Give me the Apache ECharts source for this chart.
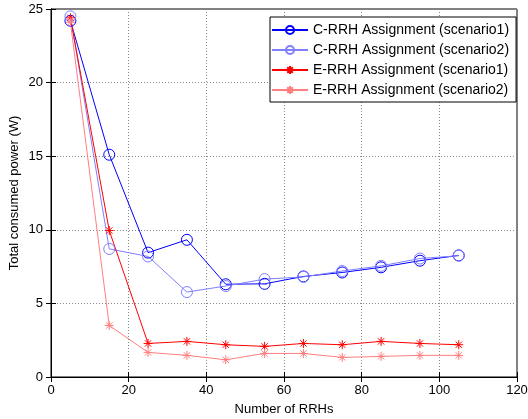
<!DOCTYPE html>
<html lang="en">
<head>
    <meta charset="utf-8">
    <title>Total consumed power</title>
    <script src="https://cdn.jsdelivr.net/npm/echarts@6/dist/echarts.min.js"></script>
    <style>
        html, body { margin: 0; padding: 0; background: #fff; }
        #main { width: 528px; height: 419px; }
    </style>
</head>
<body>
<div id="main"></div>
<script type="text/javascript">
    // number of RRHs
    var rrhs = [5, 15, 25, 35, 45, 55, 65, 75, 85, 95, 105];
    // values (W)
    var cScenario1 = [24.2, 15.1, 8.45, 9.32, 6.3, 6.33, 6.83, 7.1, 7.45, 7.9, 8.26];
    var cScenario2 = [24.5, 8.7, 8.19, 5.77, 6.18, 6.65, 6.8, 7.2, 7.55, 8.05, 8.24];
    var eScenario1 = [24.4, 9.95, 2.28, 2.42, 2.19, 2.08, 2.28, 2.19, 2.42, 2.28, 2.19];
    var eScenario2 = [24.1, 3.5, 1.67, 1.47, 1.17, 1.6, 1.6, 1.33, 1.4, 1.47, 1.47];
    var names = ['C-RRH Assignment (scenario1)', 'C-RRH Assignment (scenario2)',
                 'E-RRH Assignment (scenario1)', 'E-RRH Assignment (scenario2)'];

    function pairs(ys) {
        return rrhs.map(function (x, i) { return [x, ys[i]]; });
    }

    // asterisk marker like matlab '*'
    var star = 'path://M5 0L5 10M0 5L10 5M1.5 1.5L8.5 8.5M8.5 1.5L1.5 8.5';

    function mkSeries(name, ys, color, symbol, size) {
        return {
            name: name,
            type: 'line',
            data: pairs(ys),
            symbol: symbol,
            symbolSize: size,
            showSymbol: true,
            animation: false,
            lineStyle: { color: color, width: 1 },
            itemStyle: { color: symbol === 'circle' ? 'none' : color, borderColor: color, borderWidth: 1 }
        };
    }

    var myChart = echarts.init(document.getElementById('main'));

    var gridLine = { show: true, lineStyle: { color: '#888', type: [1, 2], width: 1 } };
    var axisFont = { fontFamily: 'Liberation Sans', fontSize: 13, color: '#000' };
    var tick = { show: true, inside: true, length: 5, lineStyle: { color: '#000' } };

    myChart.setOption({
        animation: false,
        grid: {
            left: 51, right: 11, top: 9, bottom: 42,
            outerBoundsMode: 'none', containLabel: false,
            show: true, borderColor: '#000', borderWidth: 1, backgroundColor: '#fff'
        },
        legend: {
            left: 270, top: 17,
            width: 243,
            orient: 'vertical',
            backgroundColor: '#fff',
            borderColor: '#000', borderWidth: 1,
            borderRadius: 0,
            padding: [6, 7, 5, 1],
            itemGap: 6,
            itemWidth: 36, itemHeight: 10,
            textStyle: { fontFamily: 'Liberation Sans', fontSize: 14, color: '#000' },
            data: names
        },
        xAxis: [{
            type: 'value', min: 0, max: 120, interval: 20,
            name: 'Number of RRHs', nameLocation: 'middle', nameGap: 26,
            nameMoveOverlap: false,
            nameTextStyle: axisFont,
            axisLine: { show: true, lineStyle: { color: '#000' } },
            axisTick: tick,
            axisLabel: Object.assign({ margin: 7 }, axisFont),
            splitLine: gridLine
        }, {
            type: 'value', min: 0, max: 120, interval: 20, position: 'top',
            axisLine: { show: true, lineStyle: { color: '#000' } },
            axisTick: tick, axisLabel: { show: false }, splitLine: { show: false }
        }],
        yAxis: [{
            type: 'value', min: 0, max: 25, interval: 5,
            name: 'Total consumed power (W)', nameLocation: 'middle', nameGap: 30,
            nameMoveOverlap: false,
            nameTextStyle: axisFont,
            axisLine: { show: true, lineStyle: { color: '#000' } },
            axisTick: tick,
            axisLabel: Object.assign({ margin: 8 }, axisFont),
            splitLine: gridLine
        }, {
            type: 'value', min: 0, max: 25, interval: 5, position: 'right',
            axisLine: { show: true, lineStyle: { color: '#000' } },
            axisTick: tick, axisLabel: { show: false }, splitLine: { show: false }
        }],
        series: [
            mkSeries(names[0], cScenario1, '#0000ff', 'circle', 11),
            mkSeries(names[1], cScenario2, '#7f7fff', 'circle', 11),
            mkSeries(names[2], eScenario1, '#ff0000', star, 9),
            mkSeries(names[3], eScenario2, '#ff7f7f', star, 9)
        ]
    });
</script>
</body>
</html>
